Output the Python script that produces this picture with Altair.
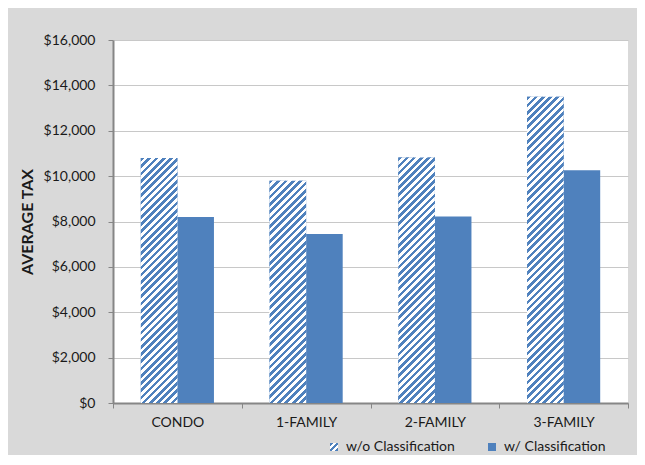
import altair as alt
import pandas as pd

categories = ["CONDO", "1-FAMILY", "2-FAMILY", "3-FAMILY"]
series = ["w/o Classification", "w/ Classification"]
without_cls = [10800, 9800, 10820, 13500]
with_cls = [8200, 7450, 8220, 10260]
y_ticks = [0, 2000, 4000, 6000, 8000, 10000, 12000, 14000, 16000]

BLUE = "#4f81bd"
FONT = "Lato"
TXT = "#1a1a1a"

rows = []
for c, a, b in zip(categories, without_cls, with_cls):
    rows.append({"category": c, "series": series[0], "tax": a})
    rows.append({"category": c, "series": series[1], "tax": b})
df = pd.DataFrame(rows)

# layout (pixels) used only for styling the hatch pattern
W, H = 515, 363
YMAX = 16000
OUTER = 0.76
bar_w = (W / len(categories)) / (2 + 2 * OUTER)
PERIOD = 7.3


def hatch_stops(n_periods):
    stops = []
    for i in range(n_periods):
        a = i / n_periods
        b = (i + 0.5) / n_periods
        c = (i + 1) / n_periods
        stops += [
            {"offset": a, "color": BLUE},
            {"offset": b, "color": BLUE},
            {"offset": b, "color": "#ffffff"},
            {"offset": c, "color": "#ffffff"},
        ]
    return stops


def hatch_gradient(value):
    w = bar_w
    h = value / YMAX * H
    k = (w + h) / (w * w + h * h)
    n = max(1, round((w + h) / PERIOD))
    return {
        "gradient": "linear",
        "x1": 0,
        "y1": 0,
        "x2": k * w,
        "y2": k * h,
        "stops": hatch_stops(n),
    }


legend_stops = [
    (0.0, BLUE), (0.22, BLUE), (0.22, "#ffffff"), (0.40, "#ffffff"),
    (0.40, BLUE), (0.62, BLUE), (0.62, "#ffffff"), (0.80, "#ffffff"),
    (0.80, BLUE), (1.0, BLUE),
]
legend_expr = (
    "{gradient:'linear',x1:0,y1:0,x2:1,y2:1,stops:["
    + ",".join("{offset:%g,color:'%s'}" % (o, col) for o, col in legend_stops)
    + "]}"
)

X = alt.X(
    "category:N",
    sort=categories,
    scale=alt.Scale(domain=categories, paddingInner=0, paddingOuter=0),
    axis=alt.Axis(
        title=None,
        labelAngle=0,
        tickBand="extent",
        labelFont=FONT,
        labelFontSize=14,
        labelColor=TXT,
        labelPadding=7,
        domainColor="#868686",
        domainWidth=2,
        tickColor="#868686",
        tickSize=5,
        grid=False,
    ),
)
XO = alt.XOffset(
    "series:N",
    sort=series,
    scale=alt.Scale(domain=series, paddingInner=0, paddingOuter=OUTER),
)
Y = alt.Y(
    "tax:Q",
    scale=alt.Scale(domain=[0, YMAX], nice=False),
    axis=alt.Axis(
        values=y_ticks,
        format="$,.0f",
        title="AVERAGE TAX",
        titleFont=FONT,
        titleFontSize=16,
        titleFontWeight="bold",
        titleColor=TXT,
        titlePadding=8,
        labelFont=FONT,
        labelFontSize=14,
        labelColor=TXT,
        labelPadding=13,
        domainColor="#868686",
        domainWidth=2,
        tickColor="#868686",
        tickSize=5,
        gridColor="#c8c8c8",
        gridWidth=1.2,
    ),
)

base = alt.Chart(df).mark_bar().encode(
    x=X,
    xOffset=XO,
    y=Y,
    color=alt.Color(
        "series:N",
        sort=series,
        scale=alt.Scale(domain=series, range=[{"expr": legend_expr}, BLUE]),
        legend=alt.Legend(
            title=None,
            orient="none",
            direction="horizontal",
            legendX=214,
            legendY=400,
            symbolType="square",
            symbolSize=64,
            symbolStrokeWidth=0,
            labelFont=FONT,
            labelFontSize=14,
            labelColor=TXT,
            labelOffset=5,
            columnPadding=30,
            padding=0,
        ),
    ),
)

layers = [base]
for c, v in zip(categories, without_cls):
    sub = df[(df["category"] == c) & (df["series"] == series[0])]
    layers.append(
        alt.Chart(sub).mark_bar(fill=hatch_gradient(v)).encode(x=X, xOffset=XO, y=Y)
    )

chart = (
    alt.layer(*layers)
    .properties(
        width=W,
        height=H,
        autosize=alt.AutoSizeParams(type="none"),
        padding={"left": 105, "top": 32, "right": 9, "bottom": 52},
        background="#d9d9d9",
    )
    .configure_view(fill="white", stroke=None)
)

chart.save("out.html", embed_options={"renderer": "svg", "actions": False})
